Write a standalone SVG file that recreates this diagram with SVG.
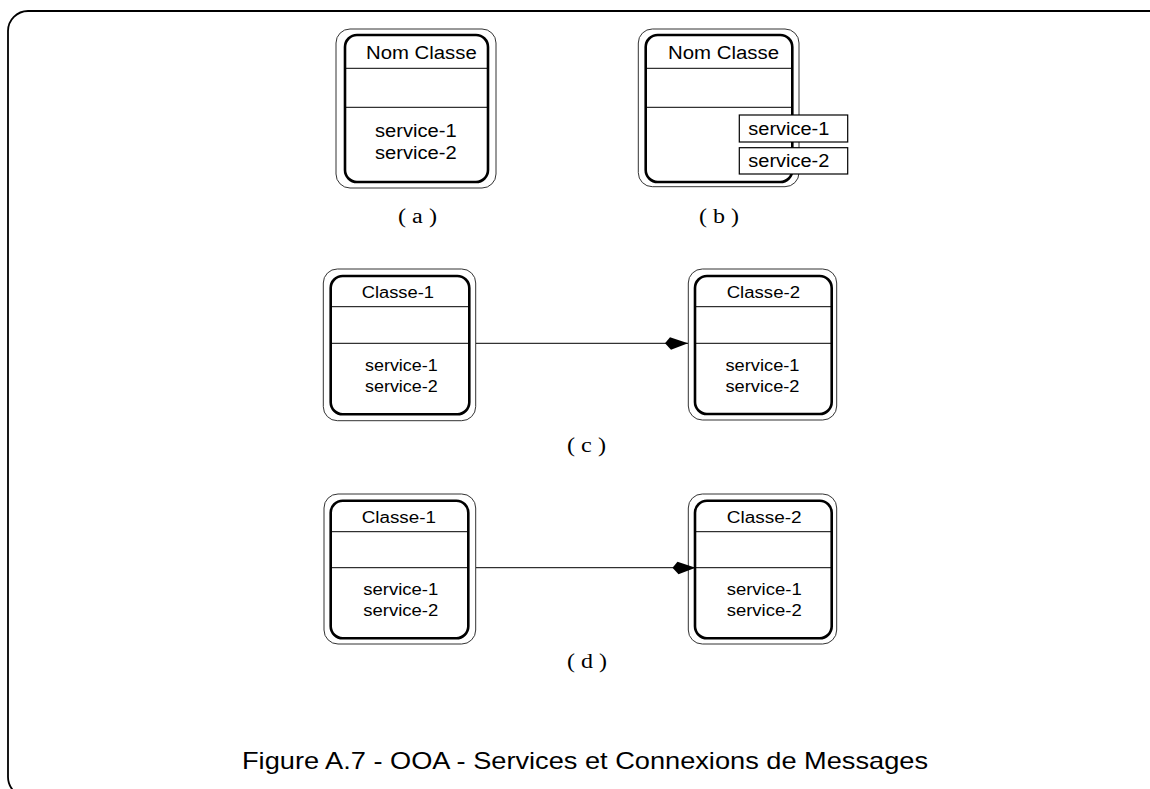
<svg xmlns="http://www.w3.org/2000/svg" width="1150" height="789" viewBox="0 0 1150 789">
<style>
.frame{fill:none;stroke:#000;stroke-width:1.8}
.outer{fill:#fff;stroke:#333;stroke-width:1}
.inner{fill:none;stroke:#000;stroke-width:2.6}
.div{stroke:#000;stroke-width:1}
.t16{font-family:"Liberation Sans",Arial,sans-serif;font-size:18px;fill:#000}
.t14{font-family:"Liberation Sans",Arial,sans-serif;font-size:16px;fill:#000}
.lab{font-family:"Liberation Serif","Times New Roman",serif;font-size:20px;fill:#000}
.cap{font-family:"Liberation Sans",Arial,sans-serif;font-size:24px;fill:#000}
.svc{fill:#fff;stroke:#000;stroke-width:1.2}
.conn{stroke:#000;stroke-width:1;fill:none}
</style>
<defs>
<marker id="ah" markerUnits="userSpaceOnUse" markerWidth="24" markerHeight="14" refX="23" refY="6.5" orient="auto" overflow="visible">
<path d="M0,6.5 L5,0.5 L23,6.5 L6,13 Z" fill="#000"/>
</marker>
</defs>
<rect class="frame" x="8" y="11" width="1200" height="786" rx="20" ry="20"/>

<g id="node-a">
<rect class="outer" x="336" y="29" width="160" height="159" rx="14"/>
<rect class="inner" x="345" y="35" width="143" height="147" rx="12"/>
<line class="div" x1="345" y1="68.3" x2="488" y2="68.3"/>
<line class="div" x1="345" y1="107.3" x2="488" y2="107.3"/>
<text class="t16" x="366" y="59" textLength="110.7" lengthAdjust="spacingAndGlyphs">Nom Classe</text>
<text class="t16" x="375" y="137.3" textLength="81.7" lengthAdjust="spacingAndGlyphs">service-1</text>
<text class="t16" x="375" y="159.3" textLength="81.7" lengthAdjust="spacingAndGlyphs">service-2</text>
</g>
<text class="lab" x="398" y="223" textLength="39" lengthAdjust="spacingAndGlyphs">( a )</text>

<g id="node-b">
<rect class="outer" x="638.3" y="29" width="160.7" height="157.7" rx="14"/>
<rect class="inner" x="645.7" y="35" width="146.6" height="147" rx="12"/>
<line class="div" x1="645.7" y1="68.3" x2="792.3" y2="68.3"/>
<line class="div" x1="645.7" y1="107.3" x2="792.3" y2="107.3"/>
<text class="t16" x="668" y="59" textLength="111" lengthAdjust="spacingAndGlyphs">Nom Classe</text>
<rect class="svc" x="739.3" y="115" width="108.4" height="27"/>
<text class="t16" x="748.3" y="135" textLength="81" lengthAdjust="spacingAndGlyphs">service-1</text>
<rect class="svc" x="739.3" y="147.7" width="108.4" height="26.3"/>
<text class="t16" x="748.3" y="167.3" textLength="81" lengthAdjust="spacingAndGlyphs">service-2</text>
</g>
<text class="lab" x="699" y="223" textLength="40" lengthAdjust="spacingAndGlyphs">( b )</text>

<g id="node-c1">
<rect class="outer" x="323.3" y="269" width="152.4" height="151.7" rx="14"/>
<rect class="inner" x="330.7" y="276" width="138.6" height="138.3" rx="12"/>
<line class="div" x1="330.7" y1="306.7" x2="469.3" y2="306.7"/>
<line class="div" x1="330.7" y1="343.3" x2="469.3" y2="343.3"/>
<text class="t14" x="361.7" y="298.3" textLength="72.3" lengthAdjust="spacingAndGlyphs">Classe-1</text>
<text class="t14" x="365" y="371" textLength="72.7" lengthAdjust="spacingAndGlyphs">service-1</text>
<text class="t14" x="365" y="392.3" textLength="72.7" lengthAdjust="spacingAndGlyphs">service-2</text>
</g>
<g id="node-c2">
<rect class="outer" x="688.3" y="269" width="148.4" height="151" rx="14"/>
<rect class="inner" x="695" y="276" width="136.7" height="138" rx="12"/>
<line class="div" x1="695" y1="306.7" x2="831.7" y2="306.7"/>
<line class="div" x1="695" y1="343.3" x2="831.7" y2="343.3"/>
<text class="t14" x="726.7" y="298.3" textLength="73.3" lengthAdjust="spacingAndGlyphs">Classe-2</text>
<text class="t14" x="725.5" y="371" textLength="74" lengthAdjust="spacingAndGlyphs">service-1</text>
<text class="t14" x="725.5" y="392.3" textLength="74" lengthAdjust="spacingAndGlyphs">service-2</text>
</g>
<text class="lab" x="567" y="452" textLength="39" lengthAdjust="spacingAndGlyphs">( c )</text>

<g id="node-d1">
<rect class="outer" x="324" y="494" width="151.7" height="150" rx="14"/>
<rect class="inner" x="330.7" y="500.7" width="137.6" height="137.6" rx="12"/>
<line class="div" x1="330.7" y1="531.7" x2="468.3" y2="531.7"/>
<line class="div" x1="330.7" y1="567.7" x2="468.3" y2="567.7"/>
<text class="t14" x="361.7" y="523.3" textLength="74.3" lengthAdjust="spacingAndGlyphs">Classe-1</text>
<text class="t14" x="363.3" y="595" textLength="75" lengthAdjust="spacingAndGlyphs">service-1</text>
<text class="t14" x="363.3" y="615.7" textLength="75" lengthAdjust="spacingAndGlyphs">service-2</text>
</g>
<g id="node-d2">
<rect class="outer" x="688.3" y="494" width="148.4" height="150" rx="14"/>
<rect class="inner" x="695" y="500.7" width="136.7" height="137.6" rx="12"/>
<line class="div" x1="695" y1="531.7" x2="831.7" y2="531.7"/>
<line class="div" x1="695" y1="567.7" x2="831.7" y2="567.7"/>
<text class="t14" x="726.7" y="523.3" textLength="75" lengthAdjust="spacingAndGlyphs">Classe-2</text>
<text class="t14" x="726.7" y="595" textLength="75" lengthAdjust="spacingAndGlyphs">service-1</text>
<text class="t14" x="726.7" y="615.7" textLength="75" lengthAdjust="spacingAndGlyphs">service-2</text>
</g>
<text class="lab" x="567" y="668" textLength="40" lengthAdjust="spacingAndGlyphs">( d )</text>

<g id="connectors">
<line class="conn" x1="476" y1="343.3" x2="688" y2="343.3" marker-end="url(#ah)"/>
<line class="conn" x1="476" y1="567.7" x2="695.5" y2="567.7" marker-end="url(#ah)"/>
</g>

<text class="cap" x="242" y="769" textLength="686" lengthAdjust="spacingAndGlyphs">Figure A.7 - OOA - Services et Connexions de Messages</text>
</svg>
